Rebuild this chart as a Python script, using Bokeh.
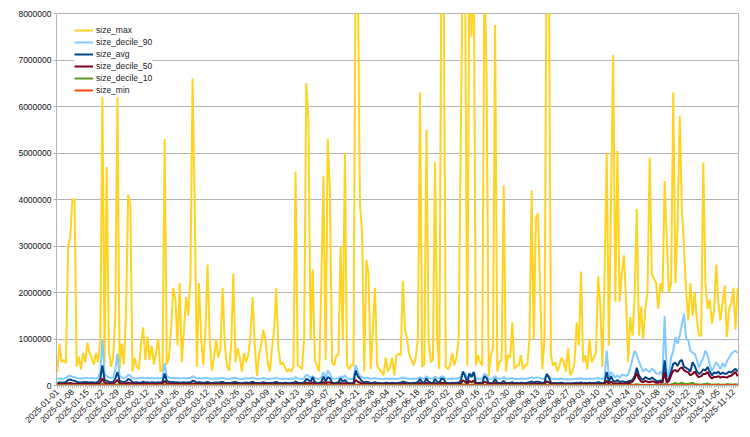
import math
import pandas as pd
from bokeh.plotting import figure
from bokeh.models import Range1d, FixedTicker, NumeralTickFormatter, Legend, LegendItem
from bokeh.embed import file_html
from bokeh.resources import INLINE

start_date = "2025-01-01"

# values in thousands
size_max = [
    300, 900, 500, 550, 480, 3000, 3200, 4000, 4000, 400,
    620, 350, 700, 500, 920, 700, 600, 450, 700, 500,
    1000, 6200, 500, 4700, 800, 400, 600, 1500, 6200, 350,
    900, 450, 1600, 4100, 3900, 300, 600, 400, 350, 900,
    1250, 550, 1050, 550, 860, 450, 700, 1000, 300, 350,
    5300, 450, 600, 1200, 2100, 1850, 860, 2200, 500, 1200,
    1900, 1500, 2300, 6600, 3900, 400, 2200, 1000, 450, 1200,
    2600, 1000, 320, 600, 1000, 600, 800, 2100, 900, 430,
    320, 860, 2400, 500, 800, 600, 300, 700, 500, 650,
    1100, 1900, 860, 200, 650, 900, 1200, 950, 500, 300,
    800, 1200, 2100, 800, 450, 500, 400, 300, 350, 300,
    400, 4600, 430, 400, 350, 1000, 6500, 5700, 1000, 2500,
    550, 430, 300, 2150, 4500, 550, 5300, 4200, 500, 430,
    650, 650, 3000, 1000, 5000, 430, 350, 450, 430, 9500,
    9000, 3900, 3300, 300, 2700, 2400, 350, 1200, 2100, 430,
    350, 300, 220, 600, 300, 400, 600, 220, 650, 680,
    650, 2250, 1200, 1000, 650, 550, 430, 600, 1000, 6300,
    400, 450, 5500, 1000, 500, 550, 4800, 1000, 350, 9500,
    9000, 400, 350, 430, 700, 430, 600, 1000, 5400, 9500,
    9000, 430, 9500, 7500, 9500, 430, 650, 500, 430, 9000,
    6700, 200, 650, 800, 7750, 300, 500, 550, 4300, 300,
    650, 600, 1360, 350, 430, 430, 650, 350, 430, 450,
    1000, 4200, 1000, 3600, 3700, 2000, 350, 1000, 9500, 9500,
    650, 430, 500, 300, 430, 600, 500, 300, 800, 220,
    300, 500, 1360, 860, 2450, 500, 650, 350, 1000, 500,
    600, 720, 2350, 1700, 400, 2400, 5000, 860, 4000, 7100,
    1800, 5050, 1800, 2400, 2800, 1850, 500, 1470, 1070, 1900,
    3800, 1070, 1700, 1000, 1650, 2000, 4900, 2400, 2300, 2200,
    1650, 2200, 2000, 4400, 3100, 2000, 2200, 6300, 2200, 3400,
    5800, 3800, 3000, 2000, 1400, 2200, 1500, 2000, 1400, 1070,
    1070, 4800, 2200, 1650, 1850, 1330, 1600, 2600, 1800, 1400,
    1800, 2150, 1040, 1650, 1750, 2100, 1200, 2100,
]

size_decile_90 = [
    140, 150, 145, 150, 160, 200, 210, 190, 180, 160,
    150, 155, 150, 160, 165, 150, 160, 155, 150, 170,
    300, 1000, 250, 200, 170, 160, 170, 350, 680, 200,
    170, 160, 180, 230, 210, 160, 150, 155, 150, 160,
    170, 155, 165, 150, 160, 150, 155, 160, 150, 170,
    480, 200, 170, 160, 165, 155, 160, 150, 155, 160,
    150, 160, 155, 200, 180, 150, 160, 155, 150, 160,
    165, 150, 145, 150, 155, 150, 160, 165, 150, 145,
    140, 150, 160, 165, 150, 145, 140, 150, 155, 150,
    155, 170, 150, 140, 145, 150, 160, 150, 140, 145,
    150, 155, 165, 150, 145, 140, 150, 145, 140, 150,
    145, 180, 150, 145, 140, 160, 230, 210, 160, 200,
    155, 150, 140, 170, 280, 160, 320, 250, 150, 145,
    150, 155, 200, 160, 220, 150, 145, 140, 150, 440,
    300, 200, 180, 150, 170, 160, 145, 150, 160, 150,
    145, 140, 140, 150, 145, 140, 150, 145, 140, 150,
    150, 170, 160, 150, 145, 140, 150, 145, 155, 180,
    150, 145, 200, 160, 150, 145, 190, 160, 150, 200,
    190, 150, 145, 140, 150, 145, 150, 155, 180, 290,
    260, 150, 250, 220, 290, 150, 145, 150, 140, 250,
    220, 140, 145, 150, 200, 150, 145, 150, 180, 140,
    145, 150, 160, 140, 145, 140, 150, 145, 140, 150,
    160, 180, 150, 170, 170, 160, 140, 155, 210, 200,
    150, 140, 145, 140, 145, 150, 140, 135, 140, 130,
    135, 140, 150, 145, 160, 140, 145, 140, 150, 140,
    145, 150, 160, 150, 140, 160, 750, 200, 290, 230,
    170, 220, 160, 230, 220, 210, 230, 390, 570, 750,
    650, 520, 400, 300, 360, 320, 290, 360, 330, 260,
    250, 290, 240, 1500, 200, 250, 600, 750, 1040, 900,
    1070, 1300, 1540, 1000, 970, 750, 700, 680, 550, 390,
    500, 600, 750, 650, 450, 320, 400, 500, 430, 350,
    480, 400, 520, 590, 680, 720, 750, 700,
]

size_avg = [
    60, 65, 60, 65, 70, 120, 130, 110, 100, 80,
    70, 65, 70, 75, 70, 65, 70, 65, 60, 80,
    150, 430, 120, 100, 80, 70, 80, 150, 290, 100,
    80, 70, 90, 140, 120, 70, 65, 70, 60, 65,
    80, 65, 70, 60, 70, 65, 60, 70, 60, 80,
    260, 100, 80, 70, 75, 65, 70, 60, 65, 70,
    60, 70, 65, 100, 90, 60, 70, 65, 60, 65,
    75, 60, 55, 60, 65, 60, 70, 75, 60, 55,
    55, 60, 70, 75, 60, 55, 50, 60, 65, 60,
    65, 80, 60, 55, 55, 60, 70, 60, 55, 55,
    60, 65, 75, 60, 55, 50, 60, 55, 50, 60,
    55, 90, 60, 55, 50, 70, 140, 120, 80, 180,
    70, 60, 55, 80, 190, 80, 180, 160, 60, 55,
    60, 70, 150, 80, 120, 60, 55, 50, 60, 320,
    200, 150, 90, 60, 80, 70, 55, 60, 70, 55,
    55, 50, 50, 60, 55, 50, 60, 55, 50, 60,
    60, 80, 70, 60, 55, 50, 60, 55, 80, 140,
    70, 60, 150, 80, 60, 55, 140, 80, 60, 150,
    140, 60, 55, 50, 60, 55, 60, 65, 100, 300,
    200, 60, 260, 180, 290, 60, 55, 60, 55, 200,
    160, 50, 55, 60, 140, 60, 55, 60, 100, 50,
    55, 60, 70, 50, 55, 50, 60, 55, 50, 60,
    70, 90, 60, 80, 80, 70, 50, 65, 250, 180,
    60, 50, 55, 50, 55, 60, 50, 45, 50, 45,
    50, 55, 60, 55, 65, 50, 55, 50, 60, 50,
    55, 60, 70, 60, 50, 65, 290, 80, 200, 100,
    80, 120, 70, 90, 80, 70, 90, 100, 120, 200,
    380, 220, 150, 120, 180, 150, 130, 170, 140, 100,
    90, 110, 100, 540, 80, 150, 300, 470, 490, 420,
    520, 550, 400, 380, 350, 300, 500, 420, 300, 250,
    280, 350, 320, 400, 300, 220, 280, 260, 300, 240,
    280, 250, 260, 300, 280, 320, 360, 300,
]

size_decile_50 = [
    30, 35, 30, 32, 35, 50, 55, 45, 40, 35,
    30, 32, 30, 35, 33, 30, 35, 32, 30, 35,
    60, 150, 60, 50, 40, 35, 40, 70, 120, 50,
    40, 35, 45, 60, 50, 35, 30, 35, 30, 30,
    35, 30, 35, 30, 32, 30, 30, 35, 30, 35,
    100, 45, 38, 35, 35, 30, 32, 30, 30, 35,
    30, 32, 30, 45, 40, 30, 32, 30, 30, 30,
    35, 30, 28, 30, 30, 28, 32, 35, 30, 28,
    27, 28, 32, 35, 30, 28, 26, 28, 30, 28,
    30, 35, 30, 27, 27, 28, 32, 30, 27, 27,
    28, 30, 35, 28, 27, 26, 28, 27, 26, 28,
    27, 40, 30, 27, 26, 32, 60, 55, 35, 70,
    32, 30, 27, 35, 75, 35, 70, 65, 30, 27,
    28, 32, 60, 35, 50, 30, 27, 26, 28, 120,
    80, 60, 40, 30, 35, 32, 27, 28, 32, 27,
    27, 26, 26, 28, 27, 26, 28, 27, 26, 28,
    28, 35, 32, 28, 27, 26, 28, 27, 35, 60,
    32, 28, 60, 35, 28, 27, 55, 35, 28, 60,
    55, 28, 27, 26, 28, 27, 28, 30, 45, 110,
    80, 28, 100, 70, 110, 28, 27, 28, 27, 80,
    65, 26, 27, 28, 55, 28, 27, 28, 45, 26,
    27, 28, 32, 26, 27, 26, 28, 27, 26, 28,
    32, 40, 28, 35, 35, 32, 26, 30, 90, 70,
    28, 26, 27, 26, 27, 28, 26, 25, 26, 25,
    26, 27, 28, 27, 30, 26, 27, 26, 28, 26,
    27, 28, 32, 28, 26, 30, 100, 35, 80, 45,
    40, 50, 40, 45, 40, 40, 50, 60, 80, 150,
    270, 150, 90, 70, 100, 80, 70, 90, 80, 60,
    60, 70, 60, 290, 50, 100, 220, 320, 330, 300,
    360, 390, 330, 300, 280, 220, 250, 300, 220, 180,
    200, 250, 250, 290, 200, 150, 190, 180, 200, 170,
    190, 180, 170, 200, 210, 250, 290, 200,
]

size_decile_10 = [
    10, 12, 10, 11, 12, 15, 16, 14, 13, 11,
    10, 11, 10, 12, 11, 10, 12, 11, 10, 12,
    18, 40, 15, 14, 12, 11, 12, 18, 30, 13,
    12, 11, 12, 15, 14, 11, 10, 11, 10, 11,
    12, 11, 12, 10, 11, 10, 11, 12, 10, 12,
    25, 14, 12, 11, 12, 10, 11, 10, 11, 12,
    10, 11, 10, 14, 13, 10, 11, 10, 10, 11,
    12, 10, 10, 11, 10, 10, 11, 12, 10, 10,
    9, 10, 11, 12, 10, 9, 9, 10, 11, 10,
    10, 12, 10, 9, 9, 10, 11, 10, 9, 9,
    10, 11, 12, 10, 9, 9, 10, 9, 9, 10,
    9, 13, 10, 9, 9, 11, 16, 14, 11, 15,
    10, 10, 9, 12, 16, 11, 17, 15, 10, 9,
    10, 11, 14, 11, 13, 10, 9, 9, 10, 25,
    18, 14, 12, 10, 11, 10, 9, 10, 11, 9,
    9, 9, 9, 10, 9, 9, 10, 9, 9, 10,
    10, 12, 11, 10, 9, 9, 10, 9, 12, 15,
    11, 10, 15, 12, 10, 9, 14, 12, 10, 16,
    15, 10, 9, 9, 10, 9, 10, 10, 13, 25,
    20, 10, 22, 17, 25, 10, 9, 10, 9, 18,
    16, 9, 9, 10, 14, 10, 9, 10, 12, 9,
    9, 10, 11, 9, 9, 9, 10, 9, 9, 10,
    11, 13, 10, 12, 12, 11, 9, 10, 20, 16,
    10, 9, 9, 9, 9, 10, 9, 8, 9, 8,
    9, 9, 10, 9, 10, 9, 9, 9, 10, 9,
    9, 10, 11, 10, 9, 10, 25, 12, 18, 12,
    11, 14, 10, 12, 11, 10, 12, 14, 16, 20,
    30, 20, 15, 13, 16, 14, 13, 15, 13, 11,
    11, 12, 11, 35, 10, 14, 25, 40, 55, 35,
    45, 60, 40, 35, 30, 50, 60, 35, 25, 20,
    22, 25, 30, 45, 25, 18, 22, 20, 25, 18,
    20, 18, 30, 25, 22, 24, 28, 22,
]

size_min = [
    2, 3, 2, 3, 2, 4, 4, 3, 3, 2,
    2, 3, 2, 3, 2, 2, 3, 2, 2, 3,
    4, 8, 3, 3, 2, 2, 3, 4, 6, 3,
    2, 2, 3, 4, 3, 2, 2, 2, 2, 3,
    3, 2, 3, 2, 2, 2, 3, 2, 2, 3,
    5, 3, 2, 2, 3, 2, 2, 2, 2, 3,
    2, 2, 2, 3, 3, 2, 2, 2, 2, 2,
    3, 2, 2, 2, 2, 2, 2, 3, 2, 2,
    2, 2, 2, 3, 2, 2, 2, 2, 2, 2,
    2, 3, 2, 2, 2, 2, 2, 2, 2, 2,
    2, 2, 3, 2, 2, 2, 2, 2, 2, 2,
    2, 3, 2, 2, 2, 2, 3, 3, 2, 3,
    2, 2, 2, 2, 3, 2, 3, 3, 2, 2,
    2, 2, 3, 2, 3, 2, 2, 2, 2, 5,
    4, 3, 3, 2, 2, 2, 2, 2, 2, 2,
    2, 2, 2, 2, 2, 2, 2, 2, 2, 2,
    2, 3, 2, 2, 2, 2, 2, 2, 2, 3,
    2, 2, 3, 2, 2, 2, 3, 2, 2, 3,
    3, 2, 2, 2, 2, 2, 2, 2, 3, 5,
    4, 2, 4, 3, 5, 2, 2, 2, 2, 4,
    3, 2, 2, 2, 3, 2, 2, 2, 2, 2,
    2, 2, 2, 2, 2, 2, 2, 2, 2, 2,
    2, 3, 2, 2, 2, 2, 2, 2, 4, 3,
    2, 2, 2, 2, 2, 2, 2, 2, 2, 2,
    2, 2, 2, 2, 2, 2, 2, 2, 2, 2,
    2, 2, 2, 2, 2, 2, 5, 2, 3, 3,
    2, 3, 2, 3, 2, 2, 3, 3, 4, 5,
    6, 4, 3, 3, 3, 3, 3, 3, 3, 2,
    2, 2, 2, 6, 2, 3, 5, 7, 8, 6,
    8, 9, 7, 6, 5, 7, 8, 6, 5, 4,
    4, 5, 5, 7, 4, 3, 4, 4, 5, 3,
    4, 3, 5, 4, 4, 5, 5, 4,
]

series_names = ["size_max", "size_decile_90", "size_avg", "size_decile_50", "size_decile_10", "size_min"]
series_values = [size_max, size_decile_90, size_avg, size_decile_50, size_decile_10, size_min]
series_colors = ["#FFD320", "#83CAFF", "#004586", "#7E0021", "#579D1C", "#FF420E"]

y_ticks = [0, 1000000, 2000000, 3000000, 4000000, 5000000, 6000000, 7000000, 8000000]

n = len(size_max)
dates = pd.date_range(start_date, periods=n, freq="D")
x = list(range(n))
tick_idx = list(range(0, n, 7))
tick_labels = [dates[i].strftime("%Y-%m-%d") for i in tick_idx]

FONT = "Liberation Sans"
GRID = "#b3b3b3"

p = figure(width=742, height=429, output_backend="svg", toolbar_location=None,
           x_range=Range1d(-0.4, n - 1 + 0.4), y_range=Range1d(0, 8000000),
           min_border_left=56, min_border_right=4, min_border_top=13, min_border_bottom=44)

items = []
for name, vals, col in zip(series_names, series_values, series_colors):
    r = p.line(x, [v * 1000 for v in vals], line_color=col, line_width=2)
    items.append(LegendItem(label=name, renderers=[r]))

legend = Legend(items=items, location=(18, 289), background_fill_color="white",
                background_fill_alpha=1.0, border_line_color=None,
                label_text_font=FONT, label_text_font_size="8.5px", label_text_color="#222222",
                glyph_width=19, glyph_height=12, label_height=12, spacing=0,
                label_standoff=3, padding=4, margin=0)
p.add_layout(legend, "center")

p.outline_line_color = GRID
p.xgrid.visible = False
p.ygrid.grid_line_color = GRID
p.ygrid.grid_line_width = 1

p.yaxis.ticker = FixedTicker(ticks=y_ticks)
p.yaxis.formatter = NumeralTickFormatter(format="0")
p.xaxis.ticker = FixedTicker(ticks=tick_idx, minor_ticks=x)
p.xaxis.major_label_overrides = {i: lbl for i, lbl in zip(tick_idx, tick_labels)}
p.xaxis.major_label_orientation = math.pi / 4

for ax in (p.xaxis, p.yaxis):
    ax.axis_line_color = GRID
    ax.major_tick_line_color = GRID
    ax.minor_tick_line_color = GRID
    ax.major_tick_in = 0
    ax.major_tick_out = 3
    ax.minor_tick_in = 0
    ax.major_label_text_font = FONT
    ax.major_label_text_font_size = "8.5px"
    ax.major_label_text_color = "#111111"
    ax.major_label_standoff = 2
p.xaxis.minor_tick_out = 2
p.yaxis.minor_tick_line_color = None

open("out.html", "w").write(file_html(p, INLINE))
